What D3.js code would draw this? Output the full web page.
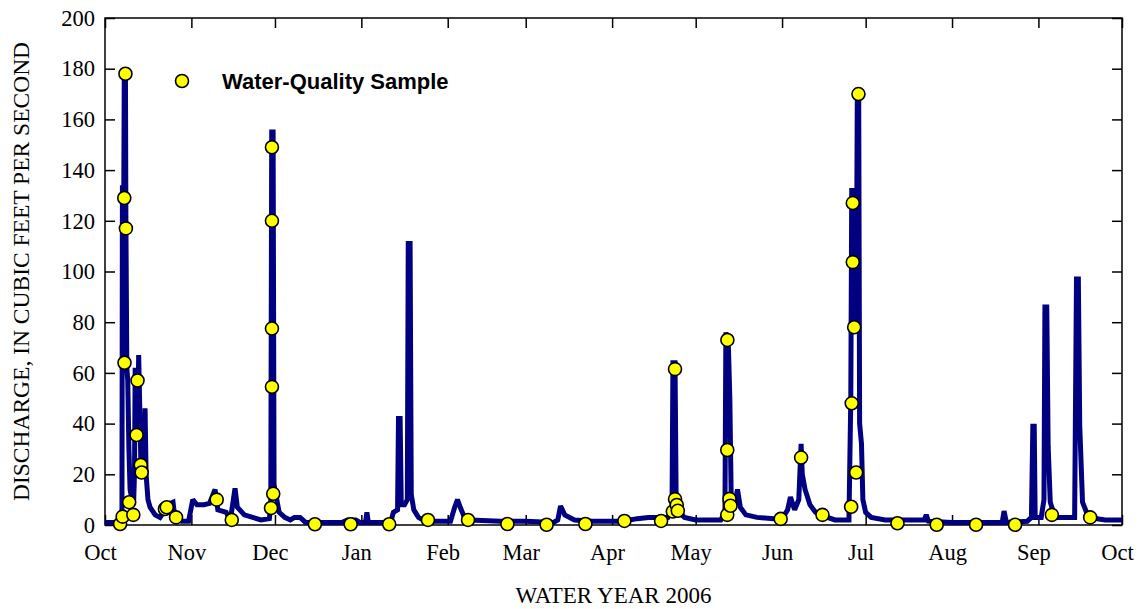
<!DOCTYPE html>
<html>
<head>
<meta charset="utf-8">
<script src="https://cdn.jsdelivr.net/npm/d3@7"></script>
<style>
  body { margin: 0; background: #fff; }
  svg { display: block; }
</style>
</head>
<body>
<div id="chart"></div>
<script>
// Daily/storm discharge, water year 2006 (cfs)
const discharge = [
  ["2005-10-01 00", 1.0], ["2005-10-04 00", 1.0], ["2005-10-06 00", 1.0], ["2005-10-06 18", 2.5],
  ["2005-10-07 02", 4], ["2005-10-07 06", 133], ["2005-10-07 18", 133], ["2005-10-07 22", 178],
  ["2005-10-08 08", 180], ["2005-10-08 12", 120], ["2005-10-08 20", 62], ["2005-10-09 04", 57],
  ["2005-10-09 14", 30], ["2005-10-10 00", 14], ["2005-10-10 16", 10], ["2005-10-11 06", 8],
  ["2005-10-11 14", 20], ["2005-10-11 20", 62], ["2005-10-12 06", 40], ["2005-10-12 16", 35],
  ["2005-10-13 02", 67], ["2005-10-13 12", 45], ["2005-10-13 22", 22], ["2005-10-14 10", 20],
  ["2005-10-15 00", 25], ["2005-10-15 09", 46], ["2005-10-15 18", 20], ["2005-10-16 10", 10],
  ["2005-10-17 04", 7], ["2005-10-19 00", 4], ["2005-10-20 18", 3], ["2005-10-22 00", 5],
  ["2005-10-23 12", 8], ["2005-10-25 10", 9], ["2005-10-26 00", 3.5], ["2005-10-28 12", 1.5],
  ["2005-10-31 00", 1.5], ["2005-11-01 12", 10], ["2005-11-03 00", 8], ["2005-11-05 12", 8],
  ["2005-11-07 12", 8.5], ["2005-11-09 12", 14], ["2005-11-10 12", 6], ["2005-11-13 12", 5],
  ["2005-11-15 00", 2], ["2005-11-16 16", 14.5], ["2005-11-17 12", 7], ["2005-11-20 00", 4],
  ["2005-11-23 00", 3], ["2005-11-26 00", 2], ["2005-11-29 00", 2.5], ["2005-11-29 12", 8],
  ["2005-11-29 20", 155], ["2005-11-30 08", 155], ["2005-11-30 16", 16], ["2005-12-01 08", 12],
  ["2005-12-02 12", 5], ["2005-12-04 12", 3], ["2005-12-06 12", 2], ["2005-12-08 00", 3],
  ["2005-12-10 00", 3], ["2005-12-12 00", 1], ["2005-12-25 00", 1], ["2005-12-27 00", 2],
  ["2005-12-30 00", 2], ["2005-12-31 12", 1], ["2006-01-02 12", 1], ["2006-01-03 00", 5],
  ["2006-01-03 12", 1], ["2006-01-11 12", 1], ["2006-01-12 12", 5], ["2006-01-14 00", 6],
  ["2006-01-14 08", 42], ["2006-01-14 22", 42], ["2006-01-15 08", 8], ["2006-01-16 12", 8],
  ["2006-01-17 12", 10], ["2006-01-17 20", 111], ["2006-01-18 12", 111], ["2006-01-18 22", 12],
  ["2006-01-19 20", 6], ["2006-01-21 12", 3], ["2006-01-24 00", 1.5], ["2006-02-02 00", 1.5],
  ["2006-02-03 12", 7], ["2006-02-04 12", 10], ["2006-02-05 12", 7], ["2006-02-07 00", 3],
  ["2006-02-09 00", 2], ["2006-02-20 00", 1.5], ["2006-03-01 00", 1.5], ["2006-03-11 00", 1],
  ["2006-03-12 12", 2], ["2006-03-13 12", 7.5], ["2006-03-15 00", 4], ["2006-03-18 12", 2],
  ["2006-03-25 00", 1.5], ["2006-04-05 00", 1.5], ["2006-04-10 00", 2.5], ["2006-04-14 00", 3],
  ["2006-04-21 00", 3], ["2006-04-22 12", 6], ["2006-04-22 20", 64], ["2006-04-23 14", 64],
  ["2006-04-24 00", 8], ["2006-04-25 00", 5], ["2006-04-27 00", 3], ["2006-05-01 00", 2],
  ["2006-05-10 00", 2], ["2006-05-11 12", 5], ["2006-05-11 20", 76], ["2006-05-12 18", 70],
  ["2006-05-13 06", 50], ["2006-05-13 18", 10], ["2006-05-15 00", 8], ["2006-05-16 00", 14],
  ["2006-05-17 00", 7], ["2006-05-19 00", 4], ["2006-05-23 00", 3], ["2006-05-29 00", 2.5],
  ["2006-06-01 00", 2.5], ["2006-06-03 00", 6], ["2006-06-04 00", 11], ["2006-06-05 12", 6],
  ["2006-06-07 00", 10], ["2006-06-07 20", 32], ["2006-06-08 06", 20], ["2006-06-09 06", 14],
  ["2006-06-11 00", 8], ["2006-06-13 00", 5], ["2006-06-16 00", 3.5], ["2006-06-20 00", 2],
  ["2006-06-25 00", 2], ["2006-06-25 16", 50], ["2006-06-26 00", 132], ["2006-06-26 12", 132],
  ["2006-06-27 00", 80], ["2006-06-27 16", 90], ["2006-06-28 00", 170], ["2006-06-28 12", 170],
  ["2006-06-28 20", 40], ["2006-06-29 12", 32], ["2006-06-30 00", 10], ["2006-07-01 00", 5],
  ["2006-07-03 00", 3], ["2006-07-08 00", 2], ["2006-07-22 00", 2], ["2006-07-22 18", 4],
  ["2006-07-23 12", 1.5], ["2006-08-01 00", 1], ["2006-08-19 00", 1], ["2006-08-19 16", 5.5],
  ["2006-08-20 12", 1], ["2006-08-28 00", 1.5], ["2006-08-29 12", 3], ["2006-08-30 00", 39],
  ["2006-08-30 12", 39], ["2006-08-30 20", 3], ["2006-09-02 00", 3], ["2006-09-03 00", 10],
  ["2006-09-03 08", 86], ["2006-09-04 00", 86], ["2006-09-04 12", 31], ["2006-09-05 06", 9],
  ["2006-09-07 00", 3], ["2006-09-14 00", 3], ["2006-09-14 16", 97], ["2006-09-15 08", 97],
  ["2006-09-15 20", 39], ["2006-09-16 20", 9], ["2006-09-19 00", 3], ["2006-09-25 00", 2],
  ["2006-10-01 00", 2]
];

// Water-quality samples (date, discharge at time of sample, cfs)
const samples = [
  ["2005-10-06 10", 0.4], ["2005-10-07 08", 3.3], ["2005-10-07 22", 129], ["2005-10-08 00", 64],
  ["2005-10-08 08", 178], ["2005-10-08 12", 117], ["2005-10-09 16", 9], ["2005-10-11 04", 4],
  ["2005-10-12 08", 35.5], ["2005-10-12 16", 57], ["2005-10-13 20", 23.7], ["2005-10-14 04", 20.7],
  ["2005-10-22 12", 6.3], ["2005-10-23 04", 7], ["2005-10-26 12", 3], ["2005-11-10 02", 10],
  ["2005-11-15 12", 2], ["2005-11-29 14", 6.7], ["2005-11-29 22", 54.5], ["2005-11-29 22", 77.5],
  ["2005-11-29 22", 120], ["2005-11-29 22", 149], ["2005-11-30 09", 12.3], ["2005-12-15 08", 0.3],
  ["2005-12-28 04", 0.3], ["2006-01-11 00", 0.3], ["2006-01-24 22", 2], ["2006-02-08 07", 2],
  ["2006-02-22 10", 0.4], ["2006-03-08 12", 0.1], ["2006-03-22 10", 0.4], ["2006-04-05 10", 1.6],
  ["2006-04-18 14", 1.6], ["2006-04-22 19", 5.3], ["2006-04-23 14", 10.2], ["2006-04-24 05", 7.9],
  ["2006-04-24 14", 5.6], ["2006-04-23 14", 61.5], ["2006-05-12 08", 4], ["2006-05-12 08", 29.6],
  ["2006-05-12 09", 73], ["2006-05-13 03", 10.3], ["2006-05-13 12", 7.6], ["2006-05-31 12", 2.4],
  ["2006-06-07 20", 26.6], ["2006-06-15 12", 4], ["2006-06-25 19", 7.2], ["2006-06-26 00", 48],
  ["2006-06-26 09", 103.7], ["2006-06-26 09", 127], ["2006-06-26 21", 78], ["2006-06-27 14", 20.7],
  ["2006-06-28 10", 170], ["2006-07-12 10", 0.7], ["2006-07-26 12", 0.1], ["2006-08-09 15", 0.1],
  ["2006-08-23 15", 0.1], ["2006-09-05 20", 4], ["2006-09-19 14", 3]
];

const monthTicks = ["2005-10-01", "2005-11-01", "2005-12-01", "2006-01-01", "2006-02-01",
  "2006-03-01", "2006-04-01", "2006-05-01", "2006-06-01", "2006-07-01", "2006-08-01",
  "2006-09-01", "2006-10-01"];
const yTicks = [0, 20, 40, 60, 80, 100, 120, 140, 160, 180, 200];

const legendLabel = "Water-Quality Sample";
const xTitle = "WATER YEAR 2006";
const yTitle = "DISCHARGE, IN CUBIC FEET PER SECOND";

const width = 1138, height = 609;
const margin = { top: 18, right: 16, bottom: 84, left: 105 };
const innerW = width - margin.left - margin.right;
const innerH = height - margin.top - margin.bottom;

const parseTime = d3.timeParse("%Y-%m-%d %H");
const parseDay = d3.timeParse("%Y-%m-%d");

const flow = discharge.map(d => ({ date: parseTime(d[0]), cfs: d[1] }));
const wq = samples.map(d => ({ date: parseTime(d[0]), cfs: d[1] }));
const ticks = monthTicks.map(parseDay);

const x = d3.scaleTime().domain([ticks[0], ticks[ticks.length - 1]]).range([0, innerW]);
const y = d3.scaleLinear().domain([0, 200]).range([innerH, 0]);

const serif = "'Liberation Serif', 'Times New Roman', serif";

const svg = d3.select("#chart").append("svg")
  .attr("width", width)
  .attr("height", height);

const g = svg.append("g").attr("transform", `translate(${margin.left},${margin.top})`);

// axes, all ticks pointing inward
const styleAxis = sel => {
  sel.select(".domain").remove();
  sel.selectAll(".tick line").attr("stroke", "#000").attr("stroke-width", 1.5);
  sel.selectAll("text").attr("fill", "#000").style("font-family", serif).style("font-size", "22.5px");
};

g.append("g")
  .call(d3.axisLeft(y).tickValues(yTicks).tickSizeInner(-10).tickSizeOuter(0).tickPadding(10))
  .call(styleAxis);

g.append("g")
  .attr("transform", `translate(${innerW},0)`)
  .call(d3.axisRight(y).tickValues(yTicks).tickSizeInner(-10).tickSizeOuter(0).tickFormat(""))
  .call(styleAxis);

g.append("g")
  .attr("transform", `translate(0,${innerH})`)
  .call(d3.axisBottom(x).tickValues(ticks).tickSizeInner(-10).tickSizeOuter(0)
    .tickPadding(19).tickFormat(d3.timeFormat("%b")))
  .call(styleAxis)
  .selectAll("text").attr("dx", -5);

g.append("g")
  .call(d3.axisTop(x).tickValues(ticks).tickSizeInner(-10).tickSizeOuter(0).tickFormat(""))
  .call(styleAxis);

// frame
g.append("rect")
  .attr("width", innerW)
  .attr("height", innerH)
  .attr("fill", "none")
  .attr("stroke", "#000")
  .attr("stroke-width", 1.5);

// hydrograph
const line = d3.line()
  .x(d => x(d.date))
  .y(d => y(d.cfs));

g.append("path")
  .datum(flow)
  .attr("fill", "none")
  .attr("stroke", "#000080")
  .attr("stroke-width", 5)
  .attr("stroke-linejoin", "miter")
  .attr("stroke-miterlimit", 2)
  .attr("d", line);

// samples
g.selectAll("circle.wq")
  .data(wq)
  .enter()
  .append("circle")
  .attr("class", "wq")
  .attr("cx", d => x(d.date))
  .attr("cy", d => y(d.cfs))
  .attr("r", 6.5)
  .attr("fill", "#ffff00")
  .attr("stroke", "#000")
  .attr("stroke-width", 1.6);

// legend
const legend = g.append("g").attr("transform", "translate(77,63)");
legend.append("circle")
  .attr("r", 6.5)
  .attr("fill", "#ffff00")
  .attr("stroke", "#000")
  .attr("stroke-width", 1.6);
legend.append("text")
  .attr("x", 40)
  .attr("y", 8)
  .style("font-family", "'Liberation Sans', Arial, sans-serif")
  .style("font-size", "22px")
  .style("font-weight", "bold")
  .text(legendLabel);

// axis titles
svg.append("text")
  .attr("x", margin.left + innerW / 2)
  .attr("y", 603)
  .attr("text-anchor", "middle")
  .style("font-family", serif)
  .style("font-size", "23px")
  .text(xTitle);

svg.append("text")
  .attr("transform", `translate(29,${margin.top + innerH / 2}) rotate(-90)`)
  .attr("text-anchor", "middle")
  .style("font-family", serif)
  .style("font-size", "23.5px")
  .text(yTitle);
</script>
</body>
</html>
